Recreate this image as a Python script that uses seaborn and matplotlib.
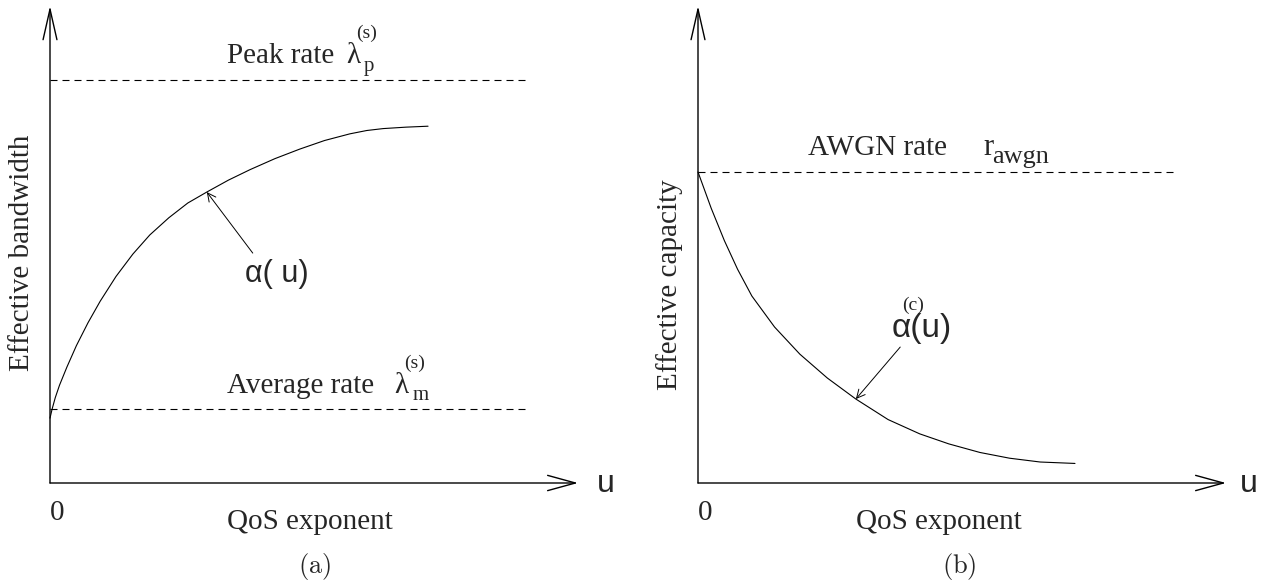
import matplotlib
matplotlib.use("Agg")
import matplotlib.pyplot as plt
import seaborn as sns
import pandas as pd

# ---- panel (a): effective bandwidth of a source against the QoS exponent ----
bw_u = [0.00, 0.04, 0.10, 0.18, 0.32, 0.50, 0.72, 0.95, 1.25, 1.57, 1.89,
        2.25, 2.61, 2.97, 3.38, 3.79, 4.26, 4.73, 5.20, 5.68, 6.00, 6.31, 6.74, 7.16]
bw_alpha = [1.36, 1.55, 1.79, 2.05, 2.43, 2.88, 3.36, 3.81, 4.33, 4.80, 5.20,
            5.56, 5.87, 6.10, 6.35, 6.57, 6.80, 7.00, 7.18, 7.32, 7.39, 7.43, 7.46, 7.48]
peak_rate = 8.45
average_rate = 1.55
bw_arrow_idx = 13           # curve point the α(u) pointer touches
bw_arrow_tail = (3.84, 4.82)

# ---- panel (b): effective capacity of a channel against the QoS exponent ----
cap_u = [0.00, 0.25, 0.50, 0.75, 1.02, 1.45, 1.93, 2.45, 2.99, 3.60, 4.20,
         4.75, 5.34, 5.90, 6.48, 7.14]
cap_alpha = [6.52, 5.76, 5.08, 4.48, 3.92, 3.27, 2.70, 2.20, 1.76, 1.33, 1.03,
             0.82, 0.64, 0.52, 0.44, 0.41]
awgn_rate = 6.52
cap_arrow_idx = 8
cap_arrow_tail = (3.83, 2.85)

dash_end = 9.07
axis_len = 10.0
x_tick_labels = ["0"]
x_label = "QoS exponent"
y_labels = ["Effective bandwidth", "Effective capacity"]
panel_tags = [r"$\mathrm{(a)}$", r"$\mathrm{(b)}$"]

sns.set_style("white")
plt.rcParams["font.family"] = ["Liberation Serif", "DejaVu Serif"]
plt.rcParams["mathtext.fontset"] = "cm"

W, H = 1268, 582
fig = plt.figure(figsize=(W / 100, H / 100), dpi=100)


def px(x, y):
    """pixel position -> figure fraction"""
    return x / W, 1 - y / H


def make_axes(x0):
    # origin of the drawn axes at (x0, 483) px; 10 units span 528 px wide, 477 px high
    ax = fig.add_axes([x0 / W, (H - 483) / H, 528 / W, 477 / H])
    ax.set_xlim(0, axis_len)
    ax.set_ylim(0, axis_len)
    ax.set_axis_off()
    # axis arrows
    ax.annotate("", xy=(axis_len, 0), xytext=(0, 0), annotation_clip=False,
                arrowprops=dict(arrowstyle="->,head_length=2.0,head_width=0.55",
                                lw=1.0, color="black", shrinkA=0, shrinkB=0,
                                mutation_scale=10))
    ax.annotate("", xy=(0, axis_len), xytext=(0, 0), annotation_clip=False,
                arrowprops=dict(arrowstyle="->,head_length=2.2,head_width=0.5",
                                lw=1.0, color="black", shrinkA=0, shrinkB=0,
                                mutation_scale=10))
    return ax


def pointer(ax, head, tail):
    ax.annotate("", xy=head, xytext=tail,
                arrowprops=dict(arrowstyle="->,head_length=0.6,head_width=0.3",
                                lw=0.7, color="black", shrinkA=0, shrinkB=0,
                                mutation_scale=10))


dash = (0, (6.3, 4.5))
sans = ["Liberation Sans", "DejaVu Sans"]

# ---------------- panel (a) ----------------
ax1 = make_axes(50)
df_bw = pd.DataFrame({"u": bw_u, "alpha": bw_alpha})
sns.lineplot(data=df_bw, x="u", y="alpha", ax=ax1, color="black", lw=0.8,
             sort=False, estimator=None, clip_on=False)
for level in (peak_rate, average_rate):
    sns.lineplot(x=[0, dash_end], y=[level, level], ax=ax1, color="black",
                 lw=0.8, linestyle=dash, clip_on=False)
pointer(ax1, (bw_u[bw_arrow_idx], bw_alpha[bw_arrow_idx]), bw_arrow_tail)

fig.text(*px(227, 63), "Peak rate", fontsize=21, va="baseline")
fig.text(*px(346, 63), "λ", fontsize=21, va="baseline")
fig.text(*px(356, 38), "(s)", fontsize=14, va="baseline")
fig.text(*px(364, 71), "p", fontsize=15, va="baseline")

fig.text(*px(227, 393), "Average rate", fontsize=21, va="baseline")
fig.text(*px(394, 393), "λ", fontsize=21, va="baseline")
fig.text(*px(404, 368), "(s)", fontsize=14, va="baseline")
fig.text(*px(413, 400), "m", fontsize=15, va="baseline")

fig.text(*px(245, 282), "α( u)", fontsize=22, va="baseline", family=sans)

fig.text(*px(22, 253), y_labels[0], fontsize=21, rotation=90, ha="center", va="center")
fig.text(*px(50, 520), x_tick_labels[0], fontsize=21, va="baseline")
fig.text(*px(227, 529), x_label, fontsize=21, va="baseline")
fig.text(*px(597, 492), "u", fontsize=23, va="baseline", family=sans)
fig.text(*px(315, 573), panel_tags[0], fontsize=19, ha="center", va="baseline")

# ---------------- panel (b) ----------------
ax2 = make_axes(698)
df_cap = pd.DataFrame({"u": cap_u, "alpha": cap_alpha})
sns.lineplot(data=df_cap, x="u", y="alpha", ax=ax2, color="black", lw=0.8,
             sort=False, estimator=None, clip_on=False)
sns.lineplot(x=[0, dash_end], y=[awgn_rate, awgn_rate], ax=ax2, color="black",
             lw=0.8, linestyle=dash, clip_on=False)
pointer(ax2, (cap_u[cap_arrow_idx], cap_alpha[cap_arrow_idx]), cap_arrow_tail)

fig.text(*px(808, 155), "AWGN rate", fontsize=21, va="baseline")
fig.text(*px(983, 155), "r", fontsize=22, va="baseline")
fig.text(*px(992, 163), "awgn", fontsize=19, va="baseline")

fig.text(*px(892, 337), "α(u)", fontsize=24, va="baseline", family=sans)
fig.text(*px(902, 310), "(c)", fontsize=14, va="baseline")

fig.text(*px(670, 285), y_labels[1], fontsize=21, rotation=90, ha="center", va="center")
fig.text(*px(698, 520), x_tick_labels[0], fontsize=21, va="baseline")
fig.text(*px(856, 529), x_label, fontsize=21, va="baseline")
fig.text(*px(1240, 492), "u", fontsize=23, va="baseline", family=sans)
fig.text(*px(959, 573), panel_tags[1], fontsize=19, ha="center", va="baseline")

fig.savefig("out.png", dpi=100, facecolor="white")
